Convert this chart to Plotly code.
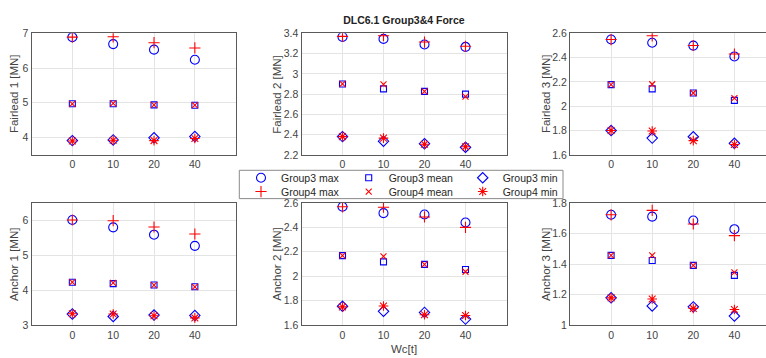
import plotly.graph_objects as go

# ---- data -------------------------------------------------------------
wc_labels = ["0", "10", "20", "40"]          # current-load cases Wc [t]
wc_pos = list(range(1, len(wc_labels) + 1))   # evenly spaced category slots

f1_g3_max = [6.89, 6.69, 6.53, 6.24]
f1_g4_max = [6.89, 6.90, 6.73, 6.58]
f1_g3_mean = [4.97, 4.97, 4.94, 4.93]
f1_g4_mean = [4.97, 4.98, 4.94, 4.93]
f1_g3_min = [3.91, 3.93, 3.99, 4.03]
f1_g4_min = [3.90, 3.92, 3.91, 3.97]

f2_g3_max = [3.365, 3.345, 3.29, 3.266]
f2_g4_max = [3.37, 3.377, 3.314, 3.272]
f2_g3_mean = [2.90, 2.852, 2.827, 2.80]
f2_g4_mean = [2.90, 2.897, 2.827, 2.776]
f2_g3_min = [2.38, 2.335, 2.31, 2.275]
f2_g4_min = [2.38, 2.365, 2.305, 2.28]

f3_g3_max = [2.549, 2.523, 2.499, 2.41]
f3_g4_max = [2.549, 2.58, 2.50, 2.43]
f3_g3_mean = [2.178, 2.143, 2.109, 2.048]
f3_g4_mean = [2.178, 2.181, 2.109, 2.067]
f3_g3_min = [1.80, 1.738, 1.749, 1.695]
f3_g4_min = [1.80, 1.796, 1.717, 1.685]

a1_g3_max = [6.01, 5.80, 5.59, 5.27]
a1_g4_max = [6.01, 5.99, 5.81, 5.61]
a1_g3_mean = [4.23, 4.19, 4.15, 4.10]
a1_g4_mean = [4.23, 4.21, 4.15, 4.10]
a1_g3_min = [3.32, 3.25, 3.29, 3.28]
a1_g4_min = [3.33, 3.32, 3.27, 3.21]

a2_g3_max = [2.568, 2.516, 2.505, 2.44]
a2_g4_max = [2.568, 2.564, 2.485, 2.40]
a2_g3_mean = [2.169, 2.118, 2.097, 2.055]
a2_g4_mean = [2.169, 2.163, 2.097, 2.037]
a2_g3_min = [1.755, 1.714, 1.705, 1.65]
a2_g4_min = [1.75, 1.757, 1.686, 1.68]

a3_g3_max = [1.722, 1.71, 1.685, 1.628]
a3_g4_max = [1.722, 1.751, 1.662, 1.586]
a3_g3_mean = [1.457, 1.423, 1.391, 1.326]
a3_g4_mean = [1.457, 1.457, 1.391, 1.345]
a3_g3_min = [1.179, 1.126, 1.12, 1.06]
a3_g4_min = [1.179, 1.171, 1.11, 1.103]

f1_ticks = [4, 5, 6, 7]
f2_ticks = [2.2, 2.4, 2.6, 2.8, 3.0, 3.2, 3.4]
f3_ticks = [1.6, 1.8, 2.0, 2.2, 2.4, 2.6]
a1_ticks = [3, 4, 5, 6]
a2_ticks = [1.6, 1.8, 2.0, 2.2, 2.4, 2.6]
a3_ticks = [1.0, 1.2, 1.4, 1.6, 1.8]

series_names = ["Group3 max", "Group4 max", "Group3 mean",
                "Group4 mean", "Group3 min", "Group4 min"]

# ---- styling ----------------------------------------------------------
W, H = 766, 358
BLUE, RED = "#0000ff", "#ff0000"
FONT = "Liberation Sans"
TICK_COLOR = "#444444"
GRID = "#e4e4e4"
AXLINE = "#5a5a5a"

# symbol, size, colour for each series (same order as series_names)
marker_styles = [
    ("circle-open", 9, BLUE),
    ("cross-thin-open", 8, RED),
    ("square-open", 6, BLUE),
    ("x-thin-open", 6, RED),
    ("diamond-open", 8, BLUE),
    ("asterisk-open", 8, RED),
]
# which legend box each series goes into (3 columns x 2 rows)
legend_ids = ["legend", "legend4", "legend2", "legend5", "legend3", "legend6"]


def px(x0, x1, y0, y1):
    """Pixel box -> paper domains."""
    return [x0 / W, x1 / W], [1 - y1 / H, 1 - y0 / H]


# (y title, series, y range, y ticks, domains, x range, right border, y-title x position px)
panels = [
    ("Fairlead 1 [MN]", [f1_g3_max, f1_g4_max, f1_g3_mean, f1_g4_mean, f1_g3_min, f1_g4_min],
     [3.5, 7], f1_ticks, px(31.5, 235.7, 28.3, 154.0), [0, 5], True, 14.0),
    ("Fairlead 2 [MN]", [f2_g3_max, f2_g4_max, f2_g3_mean, f2_g4_mean, f2_g3_min, f2_g4_min],
     [2.2, 3.4], f2_ticks, px(301.5, 506.5, 28.3, 154.0), [0, 5], True, 276.7),
    ("Fairlead 3 [MN]", [f3_g3_max, f3_g4_max, f3_g3_mean, f3_g4_mean, f3_g3_min, f3_g4_min],
     [1.6, 2.6], f3_ticks, px(570.0, 766.0, 28.3, 154.0), [0, 1 + (766 - 611.1) / 41.1], False, 546.0),
    ("Anchor 1 [MN]", [a1_g3_max, a1_g4_max, a1_g3_mean, a1_g4_mean, a1_g3_min, a1_g4_min],
     [3, 6.5], a1_ticks, px(31.5, 235.7, 203.7, 330.3), [0, 5], True, 14.0),
    ("Anchor 2 [MN]", [a2_g3_max, a2_g4_max, a2_g3_mean, a2_g4_mean, a2_g3_min, a2_g4_min],
     [1.6, 2.6], a2_ticks, px(301.5, 506.5, 203.7, 330.3), [0, 5], True, 276.7),
    ("Anchor 3 [MN]", [a3_g3_max, a3_g4_max, a3_g3_mean, a3_g4_mean, a3_g3_min, a3_g4_min],
     [1.0, 1.8], a3_ticks, px(570.0, 766.0, 203.7, 330.3), [0, 1 + (766 - 611.1) / 41.1], False, 546.0),
]

fig = go.Figure()
layout = dict(
    width=W, height=H, autosize=False,
    margin=dict(l=0, r=0, t=0, b=0),
    paper_bgcolor="white", plot_bgcolor="white",
    font=dict(family=FONT, size=10.5, color=TICK_COLOR),
)
annotations = []

for i, (ytitle, values, yrange, yticks, (xdom, ydom), xrange, mirror_y, title_x) in enumerate(panels):
    n = i + 1
    xa, ya = f"x{n}" if n > 1 else "x", f"y{n}" if n > 1 else "y"
    for k, vals in enumerate(values):
        sym, size, col = marker_styles[k]
        fig.add_trace(go.Scatter(
            x=wc_pos, y=vals, mode="markers", name=series_names[k],
            xaxis=xa, yaxis=ya,
            marker=dict(symbol=sym, size=size, color=col,
                        line=dict(color=col, width=1.1)),
            showlegend=(i == 0), legend=legend_ids[k],
        ))
    xkey = "xaxis" if n == 1 else f"xaxis{n}"
    ykey = "yaxis" if n == 1 else f"yaxis{n}"
    layout[xkey] = dict(
        domain=xdom, anchor=ya, range=xrange,
        tickmode="array", tickvals=wc_pos, ticktext=wc_labels,
        showgrid=True, gridcolor=GRID, gridwidth=1, zeroline=False,
        showline=True, linecolor=AXLINE, linewidth=1, mirror=True,
        ticks="", tickfont=dict(size=10.5, color=TICK_COLOR),
    )
    layout[ykey] = dict(
        domain=ydom, anchor=xa, range=yrange,
        tickmode="array", tickvals=yticks,
        showgrid=True, gridcolor=GRID, gridwidth=1, zeroline=False,
        showline=True, linecolor=AXLINE, linewidth=1, mirror=mirror_y,
        ticks="", tickfont=dict(size=10.5, color=TICK_COLOR),
    )
    # rotated y-axis label, centred on the panel
    annotations.append(dict(
        text=ytitle, textangle=-90, showarrow=False,
        xref="paper", yref="paper", x=title_x / W, y=sum(ydom) / 2,
        xanchor="center", yanchor="middle",
        font=dict(family=FONT, size=11.5, color=TICK_COLOR),
    ))

layout["xaxis5"]["title"] = dict(text="Wc[t]", font=dict(size=11.5, color=TICK_COLOR), standoff=5)

layout["title"] = dict(
    text="DLC6.1 Group3&4 Force", x=403.9 / W, y=1 - 20.5 / H,
    xanchor="center", yanchor="middle",
    font=dict(family=FONT, size=10.5, color="#222222", weight="bold"),
)

# legend: three columns x two rows, each entry placed in its own slot
col_x = [261.0, 368.7, 482.7]
row_y = [177.7, 192.0]
slots = {"legend": (0, 0), "legend2": (1, 0), "legend3": (2, 0),
         "legend4": (0, 1), "legend5": (1, 1), "legend6": (2, 1)}
for lid, (c, r) in slots.items():
    layout[lid] = dict(
        x=(col_x[c] - 20) / W, y=1 - row_y[r] / H,
        xanchor="left", yanchor="middle",
        bgcolor="rgba(0,0,0,0)", borderwidth=0,
        font=dict(family=FONT, size=10.5, color="#262626"),
        itemwidth=30, tracegroupgap=0,
    )

layout["shapes"] = [dict(
    type="rect", xref="paper", yref="paper", layer="above",
    x0=239.3 / W, x1=563.0 / W, y0=1 - 199.3 / H, y1=1 - 170.0 / H,
    line=dict(color="#8a8a8a", width=1), fillcolor="white",
)]
layout["annotations"] = annotations

fig.update_layout(**layout)
fig.write_html("out.html")
